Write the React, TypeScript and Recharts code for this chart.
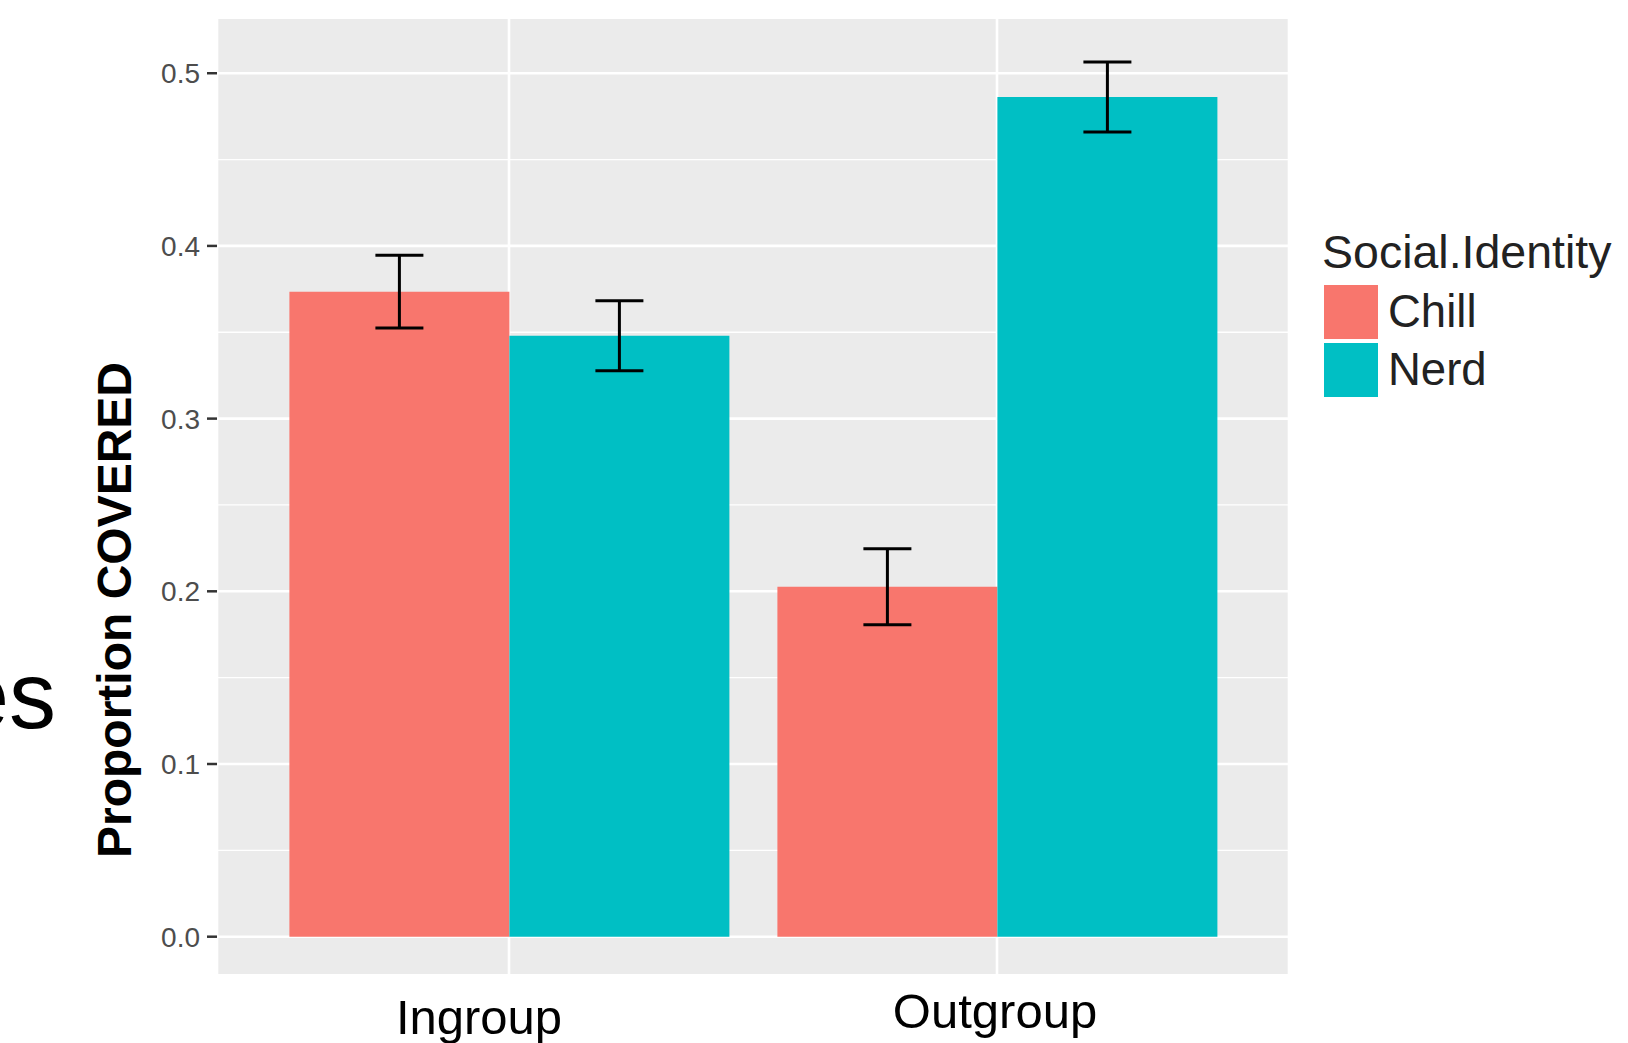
import React from "react";
import {
  Bar,
  BarChart,
  CartesianGrid,
  ErrorBar,
  Legend,
  XAxis,
  YAxis,
} from "recharts";

const groups = ["Ingroup", "Outgroup"];
const chill = [0.3735, 0.2027];
const nerd = [0.348, 0.4862];
const chillSe = [0.0211, 0.022];
const nerdSe = [0.0203, 0.0203];
const yTicks = [0, 0.1, 0.2, 0.3, 0.4, 0.5];
const yMinor = [0.05, 0.15, 0.25, 0.35, 0.45];
const seriesNames = ["Chill", "Nerd"];
const seriesColors = ["#F8766D", "#00BFC4"];

const data = groups.map((g, i) => ({
  group: g,
  chill: chill[i],
  nerd: nerd[i],
  chillSe: chillSe[i],
  nerdSe: nerdSe[i],
}));

const FONT = '"Liberation Sans", Arial, Helvetica, sans-serif';

// the slide labels sit a little off the category centres
const tickNudge: Record<string, { dx: number; dy: number }> = {
  Ingroup: { dx: -30, dy: 52 },
  Outgroup: { dx: -2, dy: 46 },
};

const GroupTick = (props: any) => {
  const { x, y, payload } = props;
  const n = tickNudge[payload.value] ?? { dx: 0, dy: 50 };
  return (
    <text
      x={x + n.dx}
      y={y + n.dy}
      textAnchor="middle"
      fontFamily={FONT}
      fontSize={49}
      fill="#000"
    >
      {payload.value}
    </text>
  );
};

const YTitle = (props: any) => {
  const { viewBox } = props;
  const cx = viewBox.x + 44;
  const cy = 610;
  return (
    <text
      x={cx}
      y={cy}
      transform={`rotate(-90, ${cx}, ${cy})`}
      textAnchor="middle"
      fontFamily={FONT}
      fontWeight="bold"
      fontSize={48}
      fill="#000"
    >
      Proportion COVERED
    </text>
  );
};

const LegendBox = () => (
  <div style={{ fontFamily: FONT, color: "#222" }}>
    <div style={{ fontSize: 46.5, lineHeight: "52px", marginLeft: -2 }}>Social.Identity</div>
    {seriesNames.map((name, i) => (
      <div
        key={name}
        style={{ display: "flex", alignItems: "center", height: 58, marginTop: i === 0 ? 5 : 0 }}
      >
        <div style={{ width: 54, height: 54, background: seriesColors[i] }} />
        <div style={{ fontSize: 45.5, marginLeft: 10 }}>{name}</div>
      </div>
    ))}
  </div>
);

export default function App() {
  return (
    <div
      style={{
        position: "absolute",
        left: 0,
        top: 0,
        width: 1628,
        height: 1043,
        background: "#fff",
        overflow: "hidden",
      }}
    >
      <svg
        width={1628}
        height={1043}
        style={{ position: "absolute", left: 0, top: 0, pointerEvents: "none" }}
      >
        <text x={56} y={728} textAnchor="end" fontFamily={FONT} fontSize={94} fill="#000">
          es
        </text>
      </svg>
      <BarChart
        width={1628}
        height={1043}
        data={data}
        margin={{ top: 19, right: 339, bottom: 0, left: 87 }}
        barCategoryGap="5%"
        barGap={0}
      >
        <CartesianGrid
          fill="#EBEBEB"
          stroke="#FFFFFF"
          strokeWidth={1.3}
          vertical={false}
          horizontalValues={yMinor}
        />
        <CartesianGrid stroke="#FFFFFF" strokeWidth={2.6} horizontalValues={yTicks} />
        <XAxis
          dataKey="group"
          height={69}
          padding={{ left: 48, right: 48 }}
          axisLine={false}
          tickLine={false}
          tick={<GroupTick />}
          interval={0}
        />
        <YAxis
          width={130}
          domain={[-0.0216, 0.5314]}
          allowDataOverflow
          ticks={yTicks}
          tickFormatter={(v: number) => v.toFixed(1)}
          axisLine={false}
          tickLine={{ stroke: "#333", strokeWidth: 2.5 }}
          tickSize={10}
          tickMargin={7}
          tick={{ fill: "#4D4D4D", fontSize: 28, fontFamily: FONT }}
          label={<YTitle />}
        />
        <Legend
          content={<LegendBox />}
          layout="vertical"
          align="center"
          verticalAlign="middle"
          wrapperStyle={{ left: 1324, top: 226, width: 300 }}
        />
        <Bar dataKey="chill" fill={seriesColors[0]} isAnimationActive={false}>
          <ErrorBar dataKey="chillSe" width={24} stroke="#000" strokeWidth={3} />
        </Bar>
        <Bar dataKey="nerd" fill={seriesColors[1]} isAnimationActive={false}>
          <ErrorBar dataKey="nerdSe" width={24} stroke="#000" strokeWidth={3} />
        </Bar>
      </BarChart>
    </div>
  );
}
